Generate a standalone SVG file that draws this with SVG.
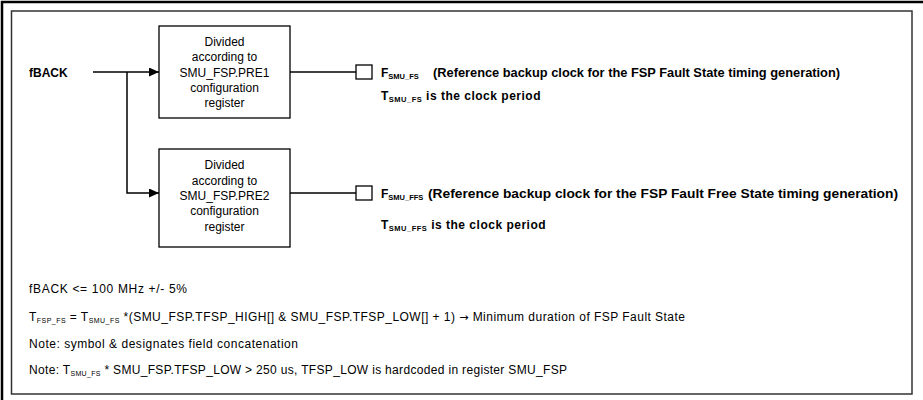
<svg xmlns="http://www.w3.org/2000/svg" width="923" height="400" viewBox="0 0 923 400">
<defs>
<marker id="arr" markerUnits="userSpaceOnUse" markerWidth="11" markerHeight="10" refX="10" refY="4.5" orient="auto">
<path d="M0,0 L10,4.5 L0,9 z" fill="#000"/>
</marker>
<style>
.box{fill:#fff;stroke:#000;stroke-width:1.3}
.ln{fill:none;stroke:#000;stroke-width:1.5}
.sq{fill:#fff;stroke:#000;stroke-width:1.3}
.t{font-family:"Liberation Sans",Arial,sans-serif;font-size:12px;fill:#000}
.c{text-anchor:middle}
.b{font-weight:bold}
.sub{font-size:7px}
.bsub{font-size:7.5px}
.tl{letter-spacing:0.5px}
.ar{font-family:"DejaVu Sans",sans-serif;font-size:11px}
</style>
</defs>
<rect width="923" height="400" fill="#fff"/>
<path d="M2,400 L2,2 L923,2" fill="none" stroke="#000" stroke-width="2.5"/>
<rect x="11.5" y="11" width="900.5" height="383" fill="none" stroke="#333" stroke-width="1.5"/>

<g id="connectors">
<line class="ln" x1="93" y1="72" x2="159" y2="72" marker-end="url(#arr)"/>
<polyline class="ln" points="127,72 127,193 159,193" marker-end="url(#arr)"/>
<line class="ln" x1="290" y1="72" x2="356" y2="72"/>
<line class="ln" x1="290" y1="193" x2="356" y2="193"/>
</g>

<g id="fback">
<text class="t b" x="29" y="77" font-size="13">fBACK</text>
</g>

<g id="div1">
<rect class="box" x="159" y="26" width="131" height="92"/>
<text class="t c" x="224.5" y="46">Divided</text>
<text class="t c" x="224.5" y="61">according to</text>
<text class="t c" x="224.5" y="76.5">SMU_FSP.PRE1</text>
<text class="t c" x="224.5" y="91.5">configuration</text>
<text class="t c" x="224.5" y="107">register</text>
</g>

<g id="div2">
<rect class="box" x="159" y="149" width="131" height="98"/>
<text class="t c" x="224.5" y="169">Divided</text>
<text class="t c" x="224.5" y="184.5">according to</text>
<text class="t c" x="224.5" y="199.5">SMU_FSP.PRE2</text>
<text class="t c" x="224.5" y="215">configuration</text>
<text class="t c" x="224.5" y="231">register</text>
</g>

<g id="out1">
<rect class="sq" x="356" y="65" width="16" height="14"/>
<text class="t b" x="381" y="77">F<tspan class="bsub" dy="2">SMU_FS</tspan></text>
<text class="t b" x="433" y="77" font-size="12.5" textLength="407" lengthAdjust="spacingAndGlyphs">(Reference backup clock for the FSP Fault State timing generation)</text>
<text class="t b tl" x="381" y="100">T<tspan class="bsub" dy="2">SMU_FS</tspan><tspan dy="-2"> is the clock period</tspan></text>
</g>

<g id="out2">
<rect class="sq" x="356" y="186" width="16" height="14"/>
<text class="t b" x="381" y="198">F<tspan class="bsub" dy="2">SMU_FFS</tspan></text>
<text class="t b" x="428" y="198" font-size="12.5" textLength="470" lengthAdjust="spacingAndGlyphs">(Reference backup clock for the FSP Fault Free State timing generation)</text>
<text class="t b tl" x="381" y="229">T<tspan class="bsub" dy="2">SMU_FFS</tspan><tspan dy="-2"> is the clock period</tspan></text>
</g>

<g id="notes">
<text class="t" x="29" y="293" textLength="158" lengthAdjust="spacing">fBACK &lt;= 100 MHz +/- 5%</text>
<text class="t" x="29" y="321" textLength="656" lengthAdjust="spacing">T<tspan class="sub" dy="2">FSP_FS</tspan><tspan dy="-2"> = T</tspan><tspan class="sub" dy="2">SMU_FS</tspan><tspan dy="-2"> *(SMU_FSP.TFSP_HIGH[] &amp; SMU_FSP.TFSP_LOW[] + 1) </tspan><tspan class="ar">→</tspan><tspan> Minimum duration of FSP Fault State</tspan></text>
<text class="t" x="29" y="348" textLength="269" lengthAdjust="spacing">Note: symbol &amp; designates field concatenation</text>
<text class="t" x="29" y="374" textLength="538" lengthAdjust="spacing">Note: T<tspan class="sub" dy="2">SMU_FS</tspan><tspan dy="-2"> * SMU_FSP.TFSP_LOW &gt; 250 us, TFSP_LOW is hardcoded in register SMU_FSP</tspan></text>
</g>
</svg>
